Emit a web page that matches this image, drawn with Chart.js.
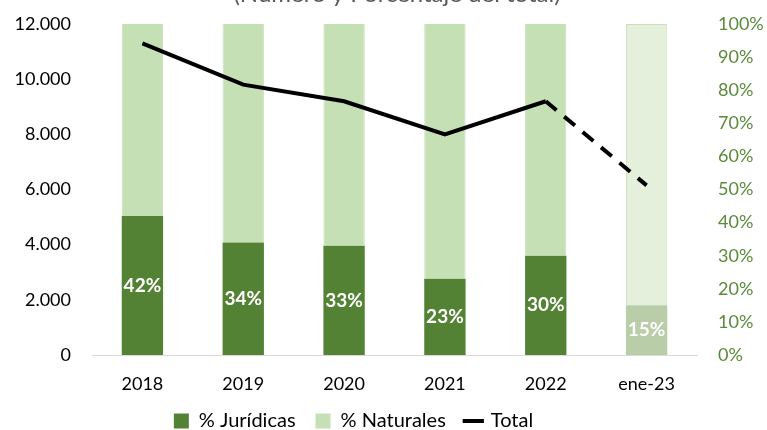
<!DOCTYPE html>
<html lang="es">
<head>
<meta charset="UTF-8" />
<title>Juridicas y Naturales</title>
<script src="https://cdn.jsdelivr.net/npm/chart.js"></script>
<style>
  html, body { margin: 0; padding: 0; background: #fff; }
  #wrap { width: 767px; height: 430px; }
</style>
</head>
<body>
<div id="wrap"><canvas id="c" width="767" height="430"></canvas></div>

<script>
// datos
const years = ["2018", "2019", "2020", "2021", "2022", "ene-23"];
const pctJuridicas = [42, 34, 33, 23, 30, 15];
const pctNaturales = [58, 66, 67, 77, 70, 85];
const total = [11300, 9800, 9200, 8000, 9200, 6150];

const FONT = "Lato, 'Open Sans', sans-serif";
const darkGreen = "#548235";
const lightGreen = "#C5E0B4";

// colores mas palidos para ene-23 (dato parcial)
const jurColors = years.map((y, i) => i === years.length - 1 ? "#B9CDA9" : darkGreen);
const natColors = years.map((y, i) => i === years.length - 1 ? "#E4F0DC" : lightGreen);
const natBorders = years.map((y, i) => i === years.length - 1 ? "#C9E2B8" : lightGreen);

// titulo cortado arriba
const titlePlugin = {
    id: "cutTitle",
    afterDraw(chart) {
        const ctx = chart.ctx;
        ctx.save();
        ctx.font = "24px " + FONT;
        ctx.fillStyle = "#595959";
        ctx.textAlign = "center";
        ctx.textBaseline = "alphabetic";
        ctx.fillText("(Número y Porcentaje del total)", 397, 2);
        ctx.restore();
    }
};

// etiquetas blancas dentro de las barras de juridicas
const labelPlugin = {
    id: "barLabels",
    afterDatasetsDraw(chart) {
        const ctx = chart.ctx;
        const meta = chart.getDatasetMeta(0);
        ctx.save();
        ctx.font = "bold 19px " + FONT;
        ctx.fillStyle = "#fff";
        ctx.textAlign = "center";
        ctx.textBaseline = "middle";
        meta.data.forEach((bar, i) => {
            const mid = (bar.y + bar.base) / 2;
            ctx.fillText(pctJuridicas[i] + "%", bar.x, mid);
        });
        ctx.restore();
    }
};

// la leyenda del original esta algo a la izquierda del centro
const legendShift = {
    id: "legendShift",
    afterLayout(chart) {
        if (chart.legend) {
            chart.legend.left -= 30;
            chart.legend.right -= 30;
        }
    }
};

function fixVertical(width) {
    return scale => {
        scale.width = width;
        scale.paddingTop = 0;
        scale.paddingBottom = 0;
    };
}

new Chart(document.getElementById("c"), {
    type: "bar",
    data: {
        labels: years,
        datasets: [
            {
                label: "% Jurídicas",
                data: pctJuridicas,
                backgroundColor: jurColors,
                yAxisID: "y1",
                stack: "s",
                order: 1,
                barPercentage: 0.41,
                categoryPercentage: 1
            },
            {
                label: "% Naturales",
                data: pctNaturales,
                backgroundColor: natColors,
                borderColor: natBorders,
                borderWidth: 1,
                borderSkipped: "bottom",
                yAxisID: "y1",
                stack: "s",
                order: 1,
                barPercentage: 0.41,
                categoryPercentage: 1
            },
            {
                type: "line",
                label: "Total",
                data: total,
                borderColor: "#000",
                backgroundColor: "#000",
                borderWidth: 4,
                pointRadius: 0,
                tension: 0,
                yAxisID: "y",
                order: 0,
                segment: {
                    borderDash: ctx => ctx.p1DataIndex === years.length - 1 ? [14, 10] : undefined
                }
            }
        ]
    },
    options: {
        responsive: false,
        animation: false,
        layout: { autoPadding: false, padding: { top: 24, left: 0, right: 0, bottom: -11 } },
        plugins: {
            tooltip: { enabled: false },
            legend: {
                position: "bottom",
                labels: {
                    usePointStyle: true,
                    boxWidth: 15,
                    boxHeight: 15,
                    padding: 20,
                    color: "#000",
                    font: { family: FONT, size: 20 },
                    sort: (a, b) => a.datasetIndex - b.datasetIndex,
                    generateLabels(chart) {
                        const items = Chart.defaults.plugins.legend.labels.generateLabels(chart);
                        items.forEach(it => {
                            if (it.datasetIndex === 2) {
                                it.pointStyle = "line";
                                it.strokeStyle = "#000";
                                it.lineWidth = 4;
                            } else {
                                it.pointStyle = "rect";
                                it.lineWidth = 0;
                            }
                        });
                        return items;
                    }
                }
            }
        },
        scales: {
            x: {
                stacked: true,
                grid: { display: false, drawTicks: false },
                border: { display: true, color: "#D9D9D9", width: 1 },
                ticks: { color: "#000", padding: 18, font: { family: FONT, size: 18 } },
                afterFit(scale) { scale.height = 36; }
            },
            y: {
                position: "left",
                min: 0,
                max: 12000,
                grid: { display: false, drawTicks: false },
                border: { display: false },
                ticks: {
                    stepSize: 2000,
                    padding: 21,
                    color: "#000",
                    font: { family: FONT, size: 18 },
                    callback: v => v.toLocaleString("de-DE")
                },
                afterFit: fixVertical(92)
            },
            y1: {
                position: "right",
                stacked: true,
                min: 0,
                max: 100,
                grid: { display: false, drawTicks: false },
                border: { display: false },
                ticks: {
                    stepSize: 10,
                    padding: 21,
                    color: "#5A8A3A",
                    font: { family: FONT, size: 18 },
                    callback: v => v + "%"
                },
                afterFit: fixVertical(70)
            }
        }
    },
    plugins: [titlePlugin, labelPlugin, legendShift]
});
</script>
</body>
</html>
